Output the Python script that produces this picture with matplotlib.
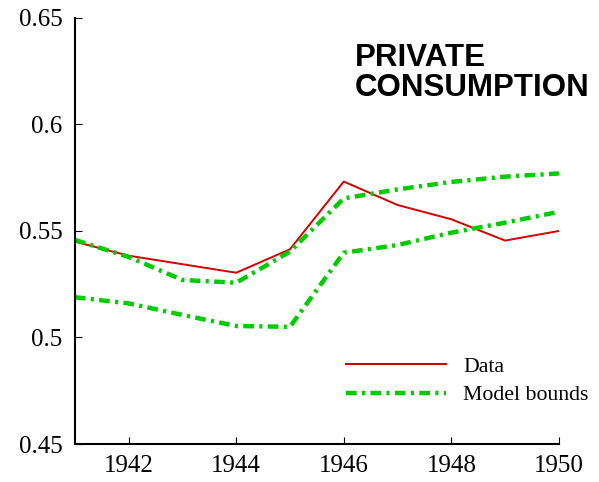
import numpy as np
import matplotlib
matplotlib.use("Agg")
import matplotlib.pyplot as plt

years = [1941, 1942, 1943, 1944, 1945, 1946, 1947, 1948, 1949, 1950]
data = [0.545, 0.5384, 0.5344, 0.5304, 0.5414, 0.5732, 0.5622, 0.5555, 0.5455, 0.550]
upper = [0.5458, 0.5378, 0.527, 0.5257, 0.5403, 0.5653, 0.5695, 0.573, 0.5755, 0.577]
lower = [0.5189, 0.516, 0.5106, 0.5054, 0.505, 0.5398, 0.5434, 0.5492, 0.5539, 0.559]

xticks = [1942, 1944, 1946, 1948, 1950]
yticks = [0.45, 0.5, 0.55, 0.6, 0.65]
ytick_labels = ["0.45", "0.5", "0.55", "0.6", "0.65"]

red = "#d40000"
green = "#00cc00"
dash = (2.4, 1.2, 0.7, 1.2)

fig = plt.figure(figsize=(5.99, 4.82), dpi=100)
ax = fig.add_axes([0.125, 0.0788, 0.808, 0.884])

ax.plot(years, data, color=red, lw=1.4, label="Data")
ax.plot(years, upper, color=green, lw=3.2, dashes=dash, label="Model bounds")
ax.plot(years, lower, color=green, lw=3.2, dashes=dash)

ax.set_xlim(1941, 1950)
ax.set_ylim(0.45, 0.65)
ax.set_xticks(xticks)
ax.set_yticks(yticks)
ax.set_yticklabels(ytick_labels)
for s in ["top", "right"]:
    ax.spines[s].set_visible(False)
for s in ["left", "bottom"]:
    ax.spines[s].set_linewidth(1.5)
ax.tick_params(direction="in", length=5, width=0.8, labelsize=18)
ax.tick_params(axis="x", pad=8)
ax.tick_params(axis="y", pad=9)
for lab in ax.get_xticklabels() + ax.get_yticklabels():
    lab.set_family("Liberation Serif")

leg = ax.legend(loc="upper left", bbox_to_anchor=(0.56, 0.206), frameon=False,
                prop={"family": "Liberation Serif", "size": 15.7},
                handlelength=4.6, handletextpad=0.78, labelspacing=0.4,
                borderpad=0, borderaxespad=0)

ax.text(0.578, 0.941, "PRIVATE\nCONSUMPTION", transform=ax.transAxes,
        family="Liberation Sans", weight="bold", fontsize=22.5, va="top",
        ha="left", linespacing=0.99, clip_on=False)

fig.savefig("out.png", dpi=100)
